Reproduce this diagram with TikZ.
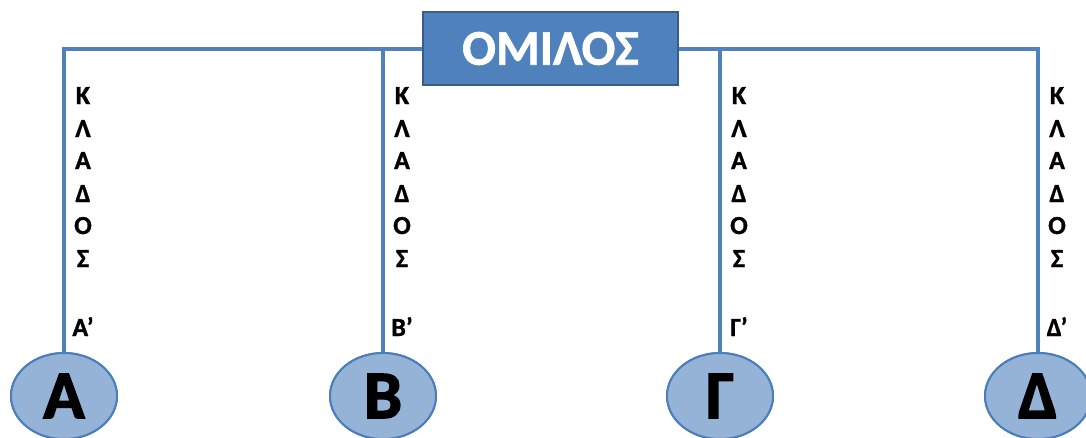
\documentclass[tikz,border=0pt]{standalone}
\usepackage{fontspec}
\setmainfont{Carlito}[BoldFeatures={FakeBold=1.2}]
\newfontfamily\heavyfont{Carlito}[BoldFeatures={FakeBold=2.2}]
\usetikzlibrary{shapes.geometric}
\definecolor{boxblue}{HTML}{4F81BD}
\definecolor{boxedge}{HTML}{385D8A}
\definecolor{branch}{HTML}{4F81BD}
\definecolor{leaffill}{HTML}{95B3D7}
\definecolor{leafedge}{HTML}{4A7EBB}
\tikzset{
  group/.style={draw=boxedge, line width=1.6pt, fill=boxblue, text=white,
    minimum width=255pt, minimum height=73pt, inner sep=0pt,
    font=\fontsize{50}{56}\selectfont\bfseries},
  leaf/.style={ellipse, draw=leafedge, line width=2pt, fill=leaffill,
    minimum width=106pt, minimum height=86pt, inner sep=0pt,
    font=\heavyfont\fontsize{68}{72}\selectfont\bfseries},
  branchline/.style={draw=branch, line width=4pt},
  letter/.style={anchor=base, inner sep=0pt,
    font=\fontsize{26}{30}\selectfont\bfseries}
}
\begin{document}
\begin{tikzpicture}[x=1pt, y=-1pt]
  \clip (0,0) rectangle (1086,437);
  \fill[white] (0,0) rectangle (1086,437);

  % leaf groups
  \node[leaf] (A) at (64,396)   {Α};
  \node[leaf] (B) at (383,396)  {Β};
  \node[leaf] (G) at (720,396)  {Γ};
  \node[leaf] (D) at (1038,396) {Δ};

  % top box
  \node[group] (om) at (550.5,48.5) {ΟΜΙΛΟΣ};

  % branch lines from the box down to each group
  \draw[branchline] (A.north) |- (om.west);
  \draw[branchline] (B.north) |- (om.west);
  \draw[branchline] (G.north) |- (om.east);
  \draw[branchline] (D.north) |- (om.east);

  % groups and box drawn again on top of the line ends
  \node[leaf] at (A) {Α};
  \node[leaf] at (B) {Β};
  \node[leaf] at (G) {Γ};
  \node[leaf] at (D) {Δ};
  \node[group] at (om) {ΟΜΙΛΟΣ};

  % vertical labels along each branch
  \foreach \x/\p/\n in {64/Α/a, 383/Β/b, 720/Γ/g, 1038/Δ/d} {
    \foreach \c/\y/\k in {Κ/104/1, Λ/137/2, Α/169/3, Δ/202/4, Ο/234/5, Σ/267/6} {
      \node[letter] (\n\k) at (\x+19,\y) {\c};
    }
    \node[letter] (\n p) at (\x+19,336) {\p’};
  }
\end{tikzpicture}
\end{document}
